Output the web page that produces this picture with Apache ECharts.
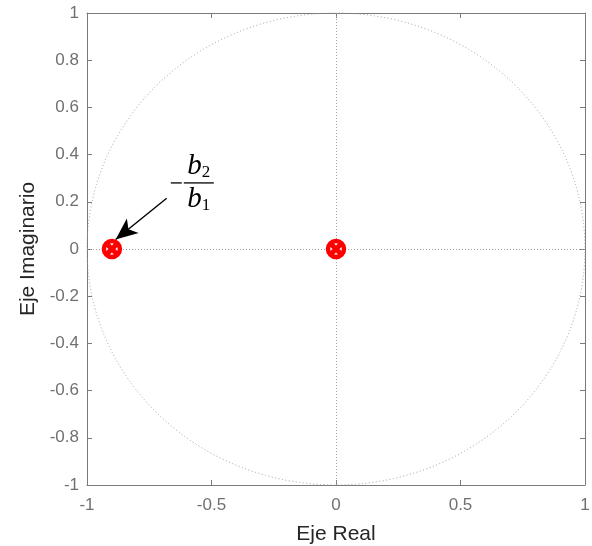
<!DOCTYPE html>
<html><head><meta charset="utf-8">
<script src="https://cdn.jsdelivr.net/npm/echarts@6/dist/echarts.min.js"></script>
<style>html,body{margin:0;padding:0;background:#fff}#c{width:592px;height:546px}</style>
</head><body><div id="c"></div>
<script>
// data
const zerosRe = [0, -0.9];
const zerosIm = [0, 0];
const polesRe = [0, -0.9];
const polesIm = [0, 0];
const xTicks = [-1, -0.5, 0, 0.5, 1];
const yTicks = [-1, -0.8, -0.6, -0.4, -0.2, 0, 0.2, 0.4, 0.6, 0.8, 1];
const xName = 'Eje Real';
const yName = 'Eje Imaginario';
const arrowFrom = [-0.68, 0.215];
const arrowTo = [-0.885, 0.04];
const fracAnchor = [-0.555, 0.28];

const chart = echarts.init(document.getElementById('c'), null, {renderer: 'canvas'});
const axisCol = '#7a7a7a';
const labCol = '#707070';
const font = 'Liberation Sans, Arial, Helvetica, sans-serif';
const xPath = 'path://M0,5L5,0L10,5L15,0L20,5L15,10L20,15L15,20L10,15L5,20L0,15L5,10Z';

function axisCommon(show) {
  return {
    axisLine: {show: true, onZero: false, lineStyle: {color: axisCol, width: 1}},
    axisTick: {show: true, inside: true, length: 5, lineStyle: {color: axisCol}},
    splitLine: {show: false},
    axisLabel: {show: show, color: labCol, fontSize: 17, fontFamily: font},
  };
}

const option = {
  animation: false,
  backgroundColor: '#fff',
  grid: {left: 87, right: 7, top: 13, bottom: 61, containLabel: false, outerBoundsMode: 'none'},
  xAxis: [
    Object.assign({type: 'value', min: -1, max: 1, interval: 0.5, position: 'bottom',
      name: xName, nameLocation: 'middle', nameGap: 39,
      nameTextStyle: {color: '#262626', fontSize: 21, fontFamily: font}}, axisCommon(true),
      {axisLabel: {show: true, color: labCol, fontSize: 17, fontFamily: font, margin: 12,
        formatter: v => String(v)}}),
    Object.assign({type: 'value', min: -1, max: 1, interval: 0.5, position: 'top'}, axisCommon(false))
  ],
  yAxis: [
    Object.assign({type: 'value', min: -1, max: 1, interval: 0.2, position: 'left',
      name: yName, nameLocation: 'middle', nameGap: 47,
      nameTextStyle: {color: '#262626', fontSize: 21, fontFamily: font}}, axisCommon(true),
      {axisLabel: {show: true, color: labCol, fontSize: 17, fontFamily: font, margin: 8,
        formatter: v => String(Math.round(v * 10) / 10)}}),
    Object.assign({type: 'value', min: -1, max: 1, interval: 0.2, position: 'right'}, axisCommon(false))
  ],
  series: [
    {
      type: 'line', data: [], silent: true,
      markLine: {
        silent: true, symbol: ['none', 'none'], label: {show: false},
        lineStyle: {color: '#a0a0a0', type: [1, 2], width: 1},
        data: [{xAxis: 0}, {yAxis: 0}]
      }
    },
    {
      type: 'line', data: [], silent: true,
      markLine: {
        silent: true, symbol: ['none', 'arrow'], symbolSize: [14, 22], label: {show: false},
        lineStyle: {color: '#000', type: 'solid', width: 1.4},
        data: [[{coord: arrowFrom}, {coord: arrowTo}]]
      }
    },
    {
      name: 'zeros', type: 'scatter', z: 5,
      data: zerosRe.map((r, i) => [r, zerosIm[i]]),
      symbol: 'circle', symbolSize: 16,
      itemStyle: {color: '#ffffff', borderColor: '#ff0000', borderWidth: 4.5, opacity: 1}
    },
    {
      name: 'poles', type: 'scatter', z: 6,
      data: polesRe.map((r, i) => [r, polesIm[i]]),
      symbol: xPath, symbolSize: 14,
      itemStyle: {color: '#ff0000', opacity: 1}
    }
  ]
};
chart.setOption(option);

function drawGraphics() {
  const c = chart.convertToPixel({gridIndex: 0}, [0, 0]);
  const e = chart.convertToPixel({gridIndex: 0}, [1, 1]);
  const rx = e[0] - c[0], ry = c[1] - e[1];
  const f = chart.convertToPixel({gridIndex: 0}, fracAnchor);
  const serif = 'Liberation Serif, Times New Roman, serif';
  chart.setOption({
    graphic: [
      {type: 'circle', shape: {cx: 0, cy: 0, r: rx}, x: c[0], y: c[1], scaleY: ry / rx,
        silent: true, z: 1,
        style: {fill: 'none', stroke: '#9a9a9a', lineWidth: 1, lineDash: [1, 2.5], strokeNoScale: true}},
      {type: 'line', shape: {x1: f[0] - 27, y1: f[1], x2: f[0] - 16, y2: f[1]}, silent: true,
        style: {stroke: '#000', lineWidth: 1.3}},
      {type: 'line', shape: {x1: f[0] - 14, y1: f[1], x2: f[0] + 16, y2: f[1]}, silent: true,
        style: {stroke: '#000', lineWidth: 1.3}},
      {type: 'text', x: f[0] + 1, y: f[1] - 2, silent: true,
        style: {text: '{b|b}{s|2}', align: 'center', verticalAlign: 'bottom',
          rich: {b: {fontFamily: serif, fontStyle: 'italic', fontSize: 29, fill: '#000'},
                 s: {fontFamily: serif, fontSize: 17, fill: '#000', verticalAlign: 'bottom'}}}},
      {type: 'text', x: f[0] + 1, y: f[1] + 2, silent: true,
        style: {text: '{b|b}{s|1}', align: 'center', verticalAlign: 'top',
          rich: {b: {fontFamily: serif, fontStyle: 'italic', fontSize: 29, fill: '#000'},
                 s: {fontFamily: serif, fontSize: 17, fill: '#000', verticalAlign: 'bottom'}}}}
    ]
  });
}
drawGraphics();
</script></body></html>
